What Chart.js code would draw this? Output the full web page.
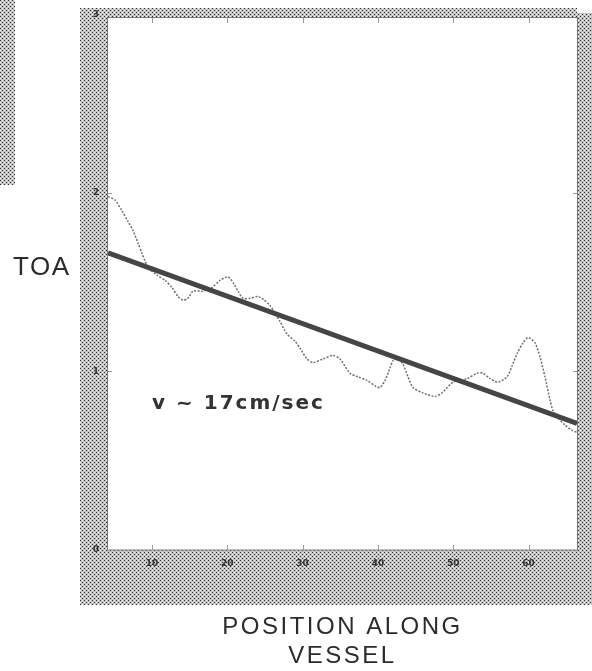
<!DOCTYPE html>
<html><head><meta charset="utf-8">
<script src="https://cdn.jsdelivr.net/npm/chart.js@4.4.0/dist/chart.umd.min.js"></script>
<style>html,body{margin:0;padding:0;background:#fff;}#wrap{width:592px;height:671px;position:relative;}canvas{display:block;}</style>
</head><body><div id="wrap"><canvas id="c" width="592" height="671"></canvas></div>
<script>
// ---- data ----
const positions = [4.16,5.09,6.02,6.82,7.48,8.14,8.68,9.07,9.47,10.67,
  11.73,12.66,13.46,14.12,14.78,15.45,16.78,17.97,19.03,20.10,
  20.89,21.42,22.09,23.02,24.08,24.88,25.67,27.00,27.93,28.99,
  29.66,30.59,31.38,32.71,34.04,34.97,36.30,37.36,38.56,39.62,
  40.28,40.95,41.61,42.01,42.67,43.34,44.00,44.66,45.99,47.59,
  48.52,49.98,51.84,53.16,53.96,54.89,55.95,57.15,57.81,58.48,
  59.27,59.94,60.87,61.53,62.19,62.86,63.26,63.92,64.85,65.78,
  66.44];
const toaMeasured = [1.98,1.96,1.90,1.84,1.79,1.72,1.66,1.62,1.58,1.54,
  1.51,1.47,1.42,1.40,1.41,1.45,1.45,1.47,1.51,1.53,
  1.49,1.45,1.41,1.41,1.42,1.40,1.37,1.28,1.21,1.17,
  1.13,1.07,1.05,1.07,1.09,1.07,0.99,0.97,0.95,0.92,
  0.91,0.95,1.02,1.06,1.07,1.04,0.97,0.91,0.88,0.86,
  0.88,0.94,0.96,0.99,0.99,0.96,0.94,0.97,1.03,1.10,
  1.16,1.19,1.16,1.08,0.97,0.84,0.78,0.74,0.70,0.67,
  0.66];
const fitPositions = [4.16, 66.44];
const fitValues = [1.665, 0.709];
const xRange = [4.16, 66.44];
const yRange = [0, 3];
const xTickValues = [10, 20, 30, 40, 50, 60];
const xTickLabels = ['10', '20', '30', '40', '50', '60'];
const yTickValues = [0, 1, 2, 3];
const yTickLabels = ['0', '1', '2', '3'];
const yTitle = 'TOA';
const xTitle = ['POSITION ALONG', 'VESSEL'];
const annotationText = 'v ~ 17cm/sec';

// ---- drawing ----
function makePattern(ctx) {
  const c = document.createElement('canvas');
  c.width = 4; c.height = 4;
  const g = c.getContext('2d');
  g.fillStyle = '#c2c2c2'; g.fillRect(0, 0, 4, 4);
  g.fillStyle = '#303030'; g.fillRect(0, 0, 1, 1); g.fillRect(2, 2, 1, 1);
  g.fillStyle = '#f4f4f4'; g.fillRect(2, 0, 1, 1); g.fillRect(0, 2, 1, 1);
  return ctx.createPattern(c, 'repeat');
}

const decor = {
  id: 'decor',
  beforeDraw(chart) {
    const ctx = chart.ctx;
    const a = chart.chartArea;
    const pat = makePattern(ctx);
    ctx.save();
    ctx.fillStyle = pat;
    // stray edge of neighbouring figure
    ctx.fillRect(0, 0, 15, 185);
    // frame bands
    ctx.fillRect(80, 8, a.left - 80, 605 - 8);          // left
    ctx.fillRect(80, 8, a.right - 80, 18 - 8);          // top
    ctx.fillRect(a.right, 13, 592 - a.right, a.bottom - 13); // right
    ctx.fillRect(80, a.bottom, 592 - 80, 605 - a.bottom);    // bottom
    // inner frame line
    ctx.strokeStyle = '#7a7a7a';
    ctx.lineWidth = 1;
    ctx.strokeRect(a.left - 0.5, 17.5, a.right - a.left + 1, a.bottom - 17.5);
    // inward tick marks
    const xs = chart.scales.x, ys = chart.scales.y;
    ctx.strokeStyle = '#999';
    ctx.beginPath();
    xTickValues.forEach(v => {
      const px = Math.round(xs.getPixelForValue(v)) + 0.5;
      ctx.moveTo(px, a.bottom); ctx.lineTo(px, a.bottom - 5);
      ctx.moveTo(px, 18); ctx.lineTo(px, 23);
    });
    yTickValues.forEach(v => {
      const py = Math.round(ys.getPixelForValue(v)) + 0.5;
      if (py < 20 || py > a.bottom - 2) return;
      ctx.moveTo(a.left, py); ctx.lineTo(a.left + 4, py);
      ctx.moveTo(a.right, py); ctx.lineTo(a.right - 4, py);
    });
    ctx.stroke();
    ctx.restore();
    // letter spacing for the axis title (drawn in the grid layer)
    ctx.letterSpacing = '2.5px';
  },
  beforeDatasetsDraw(chart) {
    chart.ctx.letterSpacing = '0px';
  },
  afterDraw(chart) {
    const ctx = chart.ctx;
    ctx.save();
    ctx.fillStyle = '#2b2b2b';
    ctx.textBaseline = 'middle';
    ctx.textAlign = 'left';
    ctx.font = '26px "Liberation Sans", Arial, sans-serif';
    ctx.letterSpacing = '1.5px';
    ctx.fillText(yTitle, 13, 268);
    ctx.font = 'bold 20px "DejaVu Sans", Verdana, sans-serif';
    ctx.letterSpacing = '2px';
    ctx.textBaseline = 'alphabetic';
    ctx.fillStyle = '#333';
    ctx.fillText(annotationText, 152, 409);
    ctx.restore();
  }
};

new Chart(document.getElementById('c'), {
  type: 'line',
  data: {
    datasets: [
      {
        label: 'fit',
        data: fitPositions.map((x, i) => ({x: x, y: fitValues[i]})),
        borderColor: '#454545',
        borderWidth: 5,
        pointRadius: 0,
        fill: false
      },
      {
        label: 'measured',
        data: positions.map((x, i) => ({x: x, y: toaMeasured[i]})),
        borderColor: '#6e6e6e',
        borderWidth: 1.5,
        borderDash: [2, 1.5],
        pointRadius: 0,
        tension: 0.25,
        fill: false
      }
    ]
  },
  options: {
    responsive: false,
    animation: false,
    devicePixelRatio: 1,
    layout: {padding: {left: 80, right: 15, top: 13, bottom: 0}},
    plugins: {legend: {display: false}, tooltip: {enabled: false}},
    scales: {
      x: {
        type: 'linear',
        min: xRange[0], max: xRange[1],
        afterBuildTicks: s => { s.ticks = xTickValues.map(v => ({value: v})); },
        afterFit: s => { s.height = 121; },
        grid: {display: false, drawTicks: false},
        border: {display: false},
        ticks: {
          z: 1,
          padding: 8,
          maxRotation: 0,
          autoSkip: false,
          color: '#333',
          font: {size: 9, family: '"DejaVu Sans", sans-serif', weight: 'bold'},
          callback: v => xTickLabels[xTickValues.indexOf(v)] ?? ''
        },
        title: {
          display: true,
          text: xTitle,
          color: '#2b2b2b',
          font: {size: 24, family: '"Liberation Sans", Arial, sans-serif', lineHeight: 1.2},
          padding: {top: 0, bottom: 0}
        }
      },
      y: {
        type: 'linear',
        min: yRange[0], max: yRange[1],
        afterBuildTicks: s => { s.ticks = yTickValues.map(v => ({value: v})); },
        afterFit: s => { s.width = 28; },
        grid: {display: false, drawTicks: false},
        border: {display: false},
        ticks: {
          z: 1,
          padding: 9,
          autoSkip: false,
          color: '#333',
          font: {size: 9, family: '"DejaVu Sans", sans-serif', weight: 'bold'},
          callback: v => yTickLabels[yTickValues.indexOf(v)] ?? ''
        }
      }
    }
  },
  plugins: [decor]
});
</script>
</body></html>
